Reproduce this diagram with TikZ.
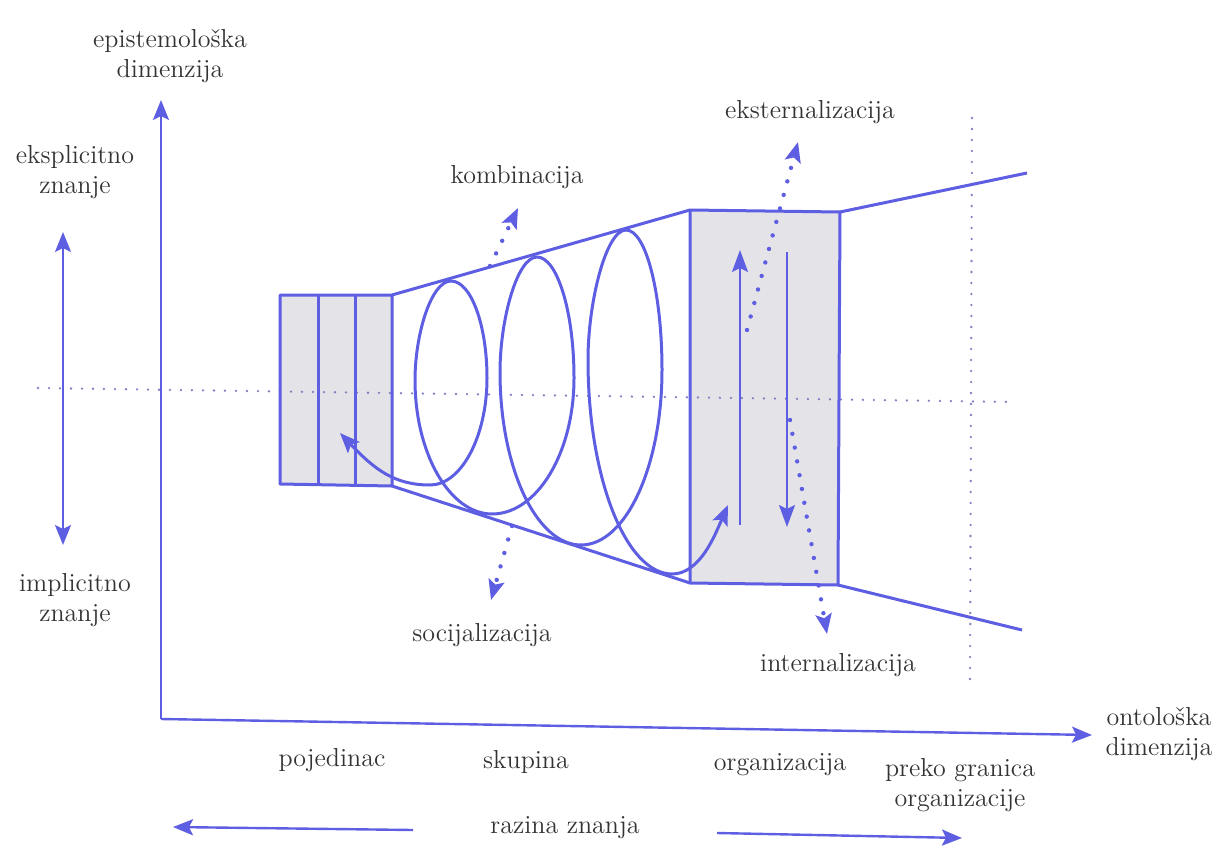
\documentclass[tikz,border=0pt]{standalone}
\usepackage{fontspec}
\usetikzlibrary{arrows.meta, calc, positioning}
\definecolor{nkBlue}{HTML}{5E5EE2}
\definecolor{nkDot}{HTML}{8080C0}
\definecolor{nkText}{HTML}{333333}
\definecolor{nkFill}{HTML}{E4E4E8}
\tikzset{
  axisline/.style  = {-{Stealth[length=10pt,width=8pt,inset=2pt]}, line width=1.2pt, nkBlue},
  bothline/.style  = {{Stealth[length=10pt,width=8pt,inset=2pt]}-{Stealth[length=10pt,width=8pt,inset=2pt]},
                      line width=1.2pt, nkBlue},
  wall/.style      = {nkBlue, line width=1.5pt, line join=round},
  spiral/.style    = {nkBlue, line width=1.5pt,
                      {Stealth[length=10pt,width=8pt,inset=2pt]}-{Stealth[length=10pt,width=8pt,inset=2pt]}},
  flow/.style      = {nkBlue, line width=1.1pt, -{Stealth[length=11pt,width=8pt,inset=2pt]}},
  modearrow/.style = {nkBlue, line width=2.2pt, line cap=round, dash pattern=on 0pt off 7pt,
                      -{Stealth[length=10pt,width=8pt,inset=2pt]}},
  guide/.style     = {nkDot, line width=1.3pt, line cap=round, dash pattern=on 0pt off 5.5pt},
  lbl/.style       = {font=\fontsize{13}{15}\selectfont, text=nkText, align=center, inner sep=1pt},
}

\begin{document}
\begin{tikzpicture}[x=0.5pt,y=-0.5pt]
  \useasboundingbox (0,0) rectangle (1216,846);
  % corners of the two boxes
  \coordinate (a1) at (280,295); \coordinate (a2) at (392,295);
  \coordinate (a3) at (392,486); \coordinate (a4) at (280,484);
  \coordinate (b1) at (690,210); \coordinate (b2) at (840,212);
  \coordinate (b3) at (838,585); \coordinate (b4) at (690,583);
  \fill[nkFill] (a1) -- (a2) -- (a3) -- (a4) -- cycle;
  \fill[nkFill] (b1) -- (b2) -- (b3) -- (b4) -- cycle;
  % axes
  \coordinate (O) at (161,719);
  \coordinate (ytip) at (161,100);
  \coordinate (xtip) at (1092,735);
  \draw[guide] (38,388) -- (1015,402);
  \draw[guide] (972,118) -- (970,683);
  \draw[axisline] (O) -- (ytip);
  \draw[axisline] (O) -- (xtip);
  % level arrows
  \coordinate (eTop) at (63,232); \coordinate (eBot) at (63,545);
  \draw[bothline] (eTop) -- (eBot);
  \coordinate (rzL) at (413,830); \coordinate (rzLtip) at (173,827);
  \coordinate (rzR) at (717,833); \coordinate (rzRtip) at (962,838);
  \draw[axisline] (rzL) -- (rzLtip);
  \draw[axisline] (rzR) -- (rzRtip);
  % boxes and funnel
  \draw[wall] (a1) -- (a2) -- (a3) -- (a4) -- cycle;
  \draw[wall] (318,295) -- (318,485);
  \draw[wall] (355,295) -- (355,485);
  \draw[wall] (b1) -- (b2) -- (b3) -- (b4) -- cycle;
  \draw[wall] (a2) -- (b1);
  \draw[wall] (a3) -- (b4);
  \draw[wall] (b2) -- (1027,173);
  \draw[wall] (b3) -- (1022,630);
  % helix
  \draw[spiral] (340,433) .. controls (375,470) and (395,485) .. (430,485)
    .. controls (461,485) and (487,437) .. (487,378)
    .. controls (487,325) and (471,281) .. (451,281)
    .. controls (431,281) and (415,335) .. (415,380)
    .. controls (415,454) and (450,514) .. (492,514)
    .. controls (537,514) and (574,453) .. (574,378)
    .. controls (574,311) and (557,257) .. (537,257)
    .. controls (517,257) and (500,320) .. (500,372)
    .. controls (500,467) and (536,545) .. (581,545)
    .. controls (626,545) and (662,466) .. (662,370)
    .. controls (662,293) and (646,230) .. (626,230)
    .. controls (606,230) and (588,302) .. (588,360)
    .. controls (588,478) and (626,574) .. (672,574)
    .. controls (700,574) and (715,535) .. (728,505);
  \draw[flow] (740,525) -- (740,250);
  \draw[flow] (787,252) -- (787,527);
  % conversion modes
  \draw[modearrow] (490,266) -- (518,208);
  \draw[modearrow] (512,526) -- (491,600);
  \draw[modearrow] (747,330) -- (798,142);
  \draw[modearrow] (790,420) -- (827,634);
  % labels
  \node[lbl] (epi)    at (170,56)  {epistemološka\\dimenzija};
  \node[lbl] (ekspl)  at (75,172)  {eksplicitno\\znanje};
  \node[lbl] (impl)   at (75,600)  {implicitno\\znanje};
  \node[lbl] (onto)   at (1159,734) {ontološka\\dimenzija};
  \node[lbl] (poj)    at (332,760) {pojedinac};
  \node[lbl] (skup)   at (526,762) {skupina};
  \node[lbl] (org)    at (780,765) {organizacija};
  \node[lbl] (preko)  at (960,785) {preko granica\\organizacije};
  \node[lbl] (razina) at (565,828) {razina znanja};
  \node[lbl] (komb)   at (517,177) {kombinacija};
  \node[lbl] (ekst)   at (810,112) {eksternalizacija};
  \node[lbl] (soc)    at (482,635) {socijalizacija};
  \node[lbl] (intl)   at (838,665) {internalizacija};
\end{tikzpicture}
\end{document}
